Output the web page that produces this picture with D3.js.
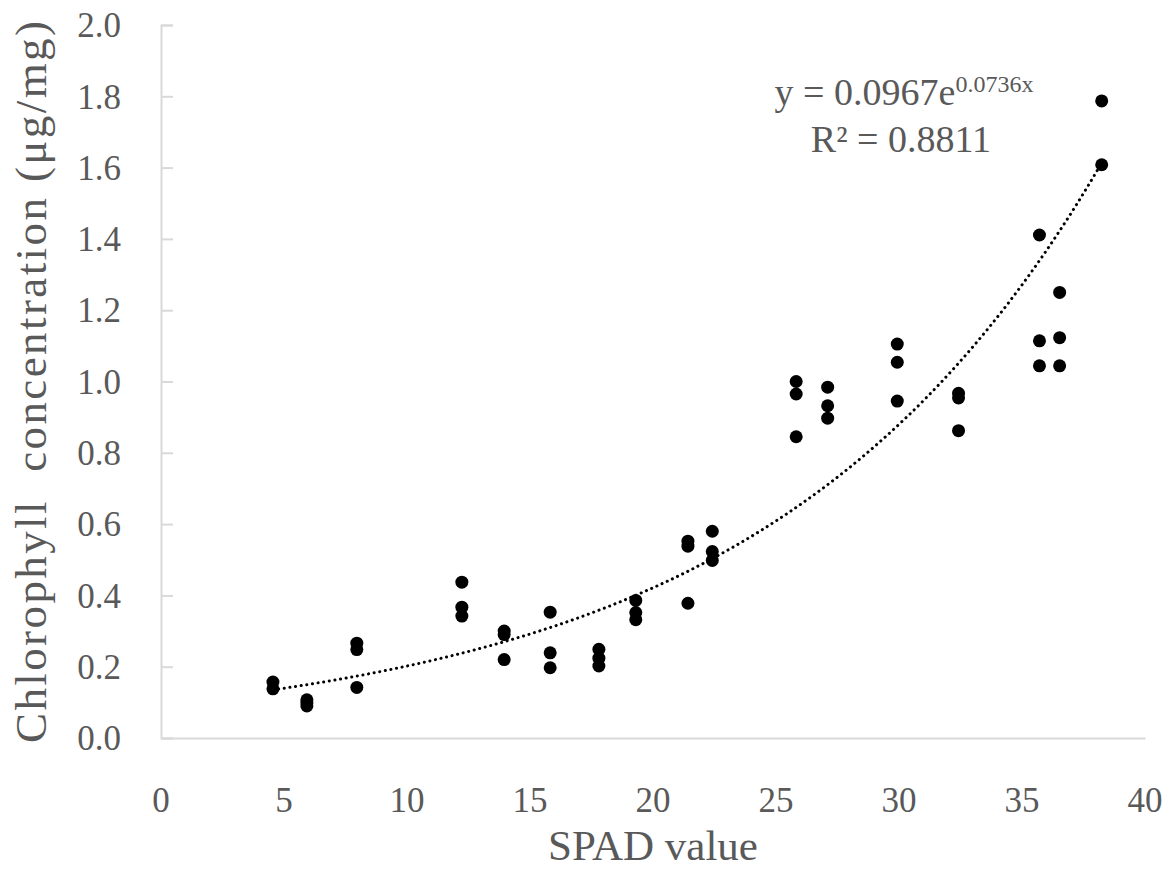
<!DOCTYPE html>
<html>
<head>
<meta charset="utf-8">
<script src="https://cdn.jsdelivr.net/npm/d3@7"></script>
<style>
  body { margin: 0; background: #fff; }
  text { font-family: "Palatino Linotype", "Book Antiqua", Palatino, "Liberation Serif", serif; fill: #595959; }
</style>
</head>
<body>
<svg id="chart" width="1175" height="872"></svg>
<script>
// SPAD readings (x) and chlorophyll concentration (y)
var spad = [
  4.55, 4.55,
  5.93, 5.93, 5.93,
  7.96, 7.96, 7.96,
  12.23, 12.23, 12.23,
  13.95, 13.95, 13.95,
  15.82, 15.82, 15.82,
  17.8, 17.8, 17.8,
  19.3, 19.3, 19.3,
  21.42, 21.42, 21.42,
  22.41, 22.41, 22.41,
  25.82, 25.82, 25.82,
  27.1, 27.1, 27.1,
  29.93, 29.93, 29.93,
  32.42, 32.42, 32.42,
  35.71, 35.71, 35.71,
  36.53, 36.53, 36.53,
  38.24, 38.24
];
var chl = [
  0.157, 0.138,
  0.107, 0.098, 0.090,
  0.266, 0.248, 0.142,
  0.437, 0.367, 0.342,
  0.300, 0.290, 0.220,
  0.353, 0.239, 0.197,
  0.249, 0.224, 0.202,
  0.386, 0.352, 0.332,
  0.552, 0.538, 0.378,
  0.580, 0.523, 0.498,
  1.000, 0.965, 0.845,
  0.984, 0.932, 0.897,
  1.105, 1.054, 0.945,
  0.967, 0.954, 0.862,
  1.411, 1.114, 1.044,
  1.250, 1.123, 1.044,
  1.787, 1.608
];

// exponential trendline coefficients shown on the chart
var fitA = 0.0967, fitB = 0.0736, fitR2 = 0.8811;

var xTicks = [0, 5, 10, 15, 20, 25, 30, 35, 40];
var yTicks = [0, 0.2, 0.4, 0.6, 0.8, 1.0, 1.2, 1.4, 1.6, 1.8, 2.0];

var svg = d3.select("#chart");
var plotLeft = 161, plotRight = 1145, plotTop = 25, plotBottom = 738;

var x = d3.scaleLinear().domain([0, 40]).range([plotLeft, plotRight]);
var y = d3.scaleLinear().domain([0, 2]).range([plotBottom, plotTop]);

// y axis with ticks pointing into the plot
var yAxis = d3.axisRight(y).tickValues(yTicks).tickSize(12).tickFormat("");
var gy = svg.append("g").attr("transform", "translate(" + plotLeft + ",0)").call(yAxis);
gy.select(".domain").attr("stroke", "#d9d9d9").attr("stroke-width", 2);
gy.selectAll(".tick line").attr("stroke", "#d9d9d9").attr("stroke-width", 2);

svg.append("g").selectAll("text").data(yTicks).enter().append("text")
  .attr("x", 121)
  .attr("y", function(d) { return y(d); })
  .attr("dy", "0.35em")
  .attr("text-anchor", "end")
  .attr("font-size", 35)
  .text(d3.format(".1f"));

// x axis, no ticks
var xAxis = d3.axisBottom(x).tickValues(xTicks).tickSize(0).tickFormat("");
var gx = svg.append("g").attr("transform", "translate(0," + plotBottom + ")").call(xAxis);
gx.select(".domain").attr("stroke", "#d9d9d9").attr("stroke-width", 2);

svg.append("g").selectAll("text").data(xTicks).enter().append("text")
  .attr("x", function(d) { return x(d); })
  .attr("y", 812)
  .attr("text-anchor", "middle")
  .attr("font-size", 35)
  .text(function(d) { return d; });

// axis titles
svg.append("text")
  .attr("x", x(20))
  .attr("y", 860)
  .attr("text-anchor", "middle")
  .attr("font-size", 43)
  .text("SPAD value");

svg.append("text")
  .attr("transform", "translate(46," + 382 + ") rotate(-90)")
  .attr("text-anchor", "middle")
  .attr("font-size", 45)
  .attr("textLength", 722)
  .attr("lengthAdjust", "spacing")
  .attr("xml:space", "preserve")
  .style("white-space", "pre")
  .text("Chlorophyll  concentration (μg/mg)");

// trendline over the range of the data
var x0 = d3.min(spad), x1 = d3.max(spad);
var fitPts = d3.range(0, 201).map(function(i) {
  var sx = x0 + (x1 - x0) * i / 200;
  return [sx, fitA * Math.exp(fitB * sx)];
});
svg.append("path")
  .datum(fitPts)
  .attr("d", d3.line().x(function(d) { return x(d[0]); }).y(function(d) { return y(d[1]); }))
  .attr("fill", "none")
  .attr("stroke", "#000")
  .attr("stroke-width", 3)
  .attr("stroke-linecap", "round")
  .attr("stroke-dasharray", "0.1,5.6");

// points
svg.append("g").selectAll("circle").data(spad).enter().append("circle")
  .attr("cx", function(d) { return x(d); })
  .attr("cy", function(d, i) { return y(chl[i]); })
  .attr("r", 6.5)
  .attr("fill", "#000");

// equation label
var eq = svg.append("text")
  .attr("x", 904)
  .attr("y", 105)
  .attr("text-anchor", "middle")
  .attr("font-size", 38);
eq.append("tspan").text("y = " + fitA + "e");
eq.append("tspan").attr("dy", -13).attr("font-size", 24).text(fitB + "x");

var r2 = svg.append("text")
  .attr("x", 901)
  .attr("y", 152)
  .attr("text-anchor", "middle")
  .attr("font-size", 38);
r2.append("tspan").text("R² = " + fitR2.toFixed(4));
</script>
</body>
</html>
